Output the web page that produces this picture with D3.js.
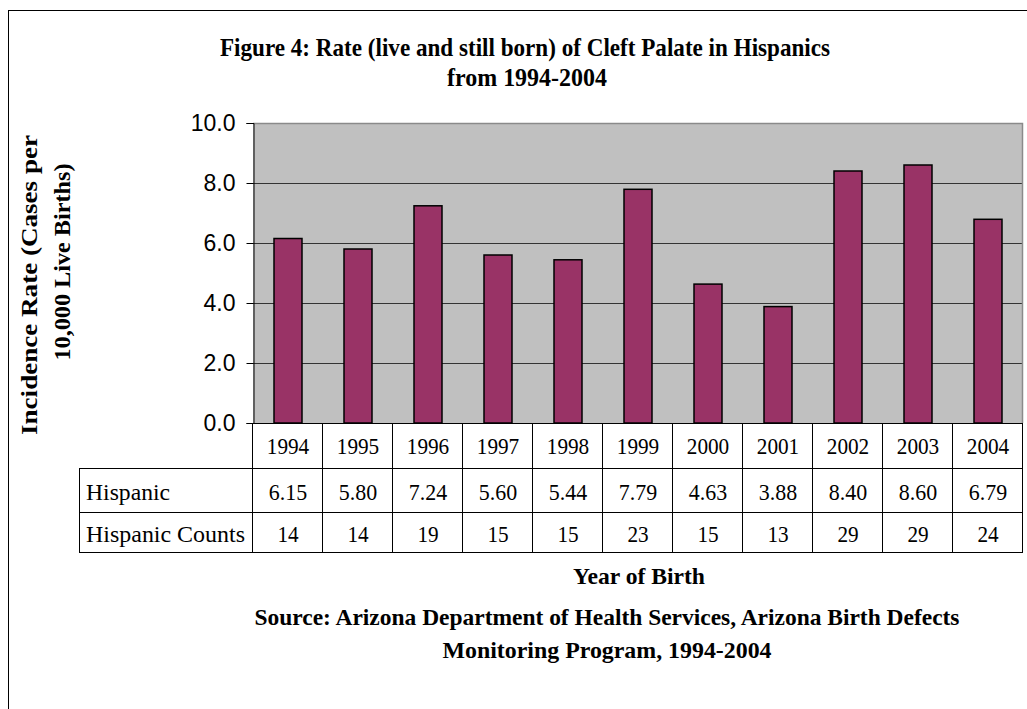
<!DOCTYPE html>
<html><head><meta charset="utf-8">
<script src="https://cdn.jsdelivr.net/npm/d3@7"></script>
<style>html,body{margin:0;padding:0;background:#fff;} svg{display:block;}</style>
</head><body>
<script>
const years = ["1994","1995","1996","1997","1998","1999","2000","2001","2002","2003","2004"];
const rates = [6.15,5.80,7.24,5.60,5.44,7.79,4.63,3.88,8.40,8.60,6.79];
const rateLabels = ["6.15","5.80","7.24","5.60","5.44","7.79","4.63","3.88","8.40","8.60","6.79"];
const counts = [14,14,19,15,15,23,15,13,29,29,24];
const yTicks = [0,2,4,6,8,10];
const rowLabels = ["Hispanic","Hispanic Counts"];

const W = 1027, H = 709;
const svg = d3.select("body").append("svg").attr("width", W).attr("height", H);
const serif = "'Liberation Serif','Times New Roman',Times,serif";
const sans = "'Liberation Sans',Arial,Helvetica,sans-serif";

// outer frame
svg.append("rect").attr("x",8.5).attr("y",10.5).attr("width",1030).attr("height",720)
  .attr("fill","none").attr("stroke","#000").attr("stroke-width",1);

const L = 253, R = 1023, T = 123, B = 423;
const x = d3.scaleBand().domain(years).range([L, R]).padding(0);
const y = d3.scaleLinear().domain([0,10]).range([B, T]);

// plot background
svg.append("rect").attr("x",L).attr("y",T).attr("width",R-L).attr("height",B-T).attr("fill","#c0c0c0");
// grid
svg.append("g").selectAll("line").data(yTicks.filter(d=>d>0 && d<10)).join("line")
  .attr("x1",L).attr("x2",R).attr("y1",d=>Math.round(y(d))+0.5).attr("y2",d=>Math.round(y(d))+0.5)
  .attr("stroke","#333").attr("stroke-width",1);
// top and right border of plot
svg.append("path").attr("d",`M${L},${T+0.5}H${R-0.5}V${B}`).attr("fill","none").attr("stroke","#8a8a8a").attr("stroke-width",1.5);

// bars
const bw = x.bandwidth()*0.4;
svg.append("g").selectAll("rect").data(rates).join("rect")
  .attr("x",(d,i)=>x(years[i]) + (x.bandwidth()-bw)/2)
  .attr("y",d=>y(d))
  .attr("width",bw)
  .attr("height",d=>y(0)-y(d))
  .attr("fill","#993366").attr("stroke","#000").attr("stroke-width",1.5);

// y axis
const yAxis = d3.axisLeft(y).tickValues(yTicks).tickFormat(d3.format(".1f")).tickSize(7).tickPadding(11);
const ga = svg.append("g").attr("transform",`translate(${L+0.5},0)`).call(yAxis);
ga.select(".domain").attr("stroke","#000");
ga.selectAll(".tick line").attr("stroke","#000");
ga.selectAll("text").attr("font-family",sans).attr("font-size",23).attr("fill","#000");

// bottom axis line
svg.append("line").attr("x1",L).attr("x2",R).attr("y1",B+0.5).attr("y2",B+0.5).attr("stroke","#000");

// data table
const TL = 79;
const rowB = [468, 512, 552];
const tbl = svg.append("g");
rowB.forEach(yy=>{
  tbl.append("line").attr("x1",TL).attr("x2",R).attr("y1",yy+0.5).attr("y2",yy+0.5).attr("stroke","#000");
});
tbl.append("line").attr("x1",TL+0.5).attr("x2",TL+0.5).attr("y1",rowB[0]).attr("y2",rowB[2]).attr("stroke","#000");
const colEdges = years.map(d=>x(d)).concat([R]);
tbl.selectAll("line.v").data(colEdges).join("line").attr("class","v")
  .attr("x1",d=>Math.round(d)-0.5).attr("x2",d=>Math.round(d)-0.5).attr("y1",B).attr("y2",rowB[2])
  .attr("stroke","#000");

const cx = d=>x(d)+x.bandwidth()/2;
function cell(cls, data, yy){
  tbl.selectAll("text."+cls).data(data).join("text").attr("class",cls)
    .attr("x",(d,i)=>cx(years[i])).attr("y",yy).attr("text-anchor","middle")
    .attr("font-family",serif).attr("font-size",24)
    .attr("textLength",d=>String(d).length*10.6 + (String(d).includes(".")?-4:0))
    .attr("lengthAdjust","spacingAndGlyphs").text(d=>d);
}
cell("yr", years, 454);
cell("rt", rateLabels, 500);
cell("ct", counts, 542);
tbl.append("text").attr("x",86).attr("y",500).attr("font-family",serif).attr("font-size",24)
  .attr("textLength",84).attr("lengthAdjust","spacingAndGlyphs").text(rowLabels[0]);
tbl.append("text").attr("x",86).attr("y",542).attr("font-family",serif).attr("font-size",24)
  .attr("textLength",159).attr("lengthAdjust","spacingAndGlyphs").text(rowLabels[1]);

// titles
function bt(xx,yy,txt,len,size){
  return svg.append("text").attr("x",xx).attr("y",yy).attr("text-anchor","middle")
    .attr("font-family",serif).attr("font-weight","bold").attr("font-size",size)
    .attr("textLength",len).attr("lengthAdjust","spacingAndGlyphs").text(txt);
}
bt(525,56,"Figure 4: Rate (live and still born) of Cleft Palate in Hispanics",610,25);
bt(527,86,"from 1994-2004",160,25);
bt(639,584,"Year of Birth",132,23);
bt(607,625,"Source: Arizona Department of Health Services, Arizona Birth Defects",705,24);
bt(607,658,"Monitoring Program, 1994-2004",329,24);

// y axis title (rotated)
svg.append("text").attr("transform","translate(37,285) rotate(-90)").attr("text-anchor","middle")
  .attr("font-family",serif).attr("font-weight","bold").attr("font-size",23)
  .attr("textLength",300).attr("lengthAdjust","spacingAndGlyphs").text("Incidence Rate (Cases per");
svg.append("text").attr("transform","translate(70,262) rotate(-90)").attr("text-anchor","middle")
  .attr("font-family",serif).attr("font-weight","bold").attr("font-size",23)
  .attr("textLength",197).attr("lengthAdjust","spacingAndGlyphs").text("10,000 Live Births)");
</script>
</body></html>
